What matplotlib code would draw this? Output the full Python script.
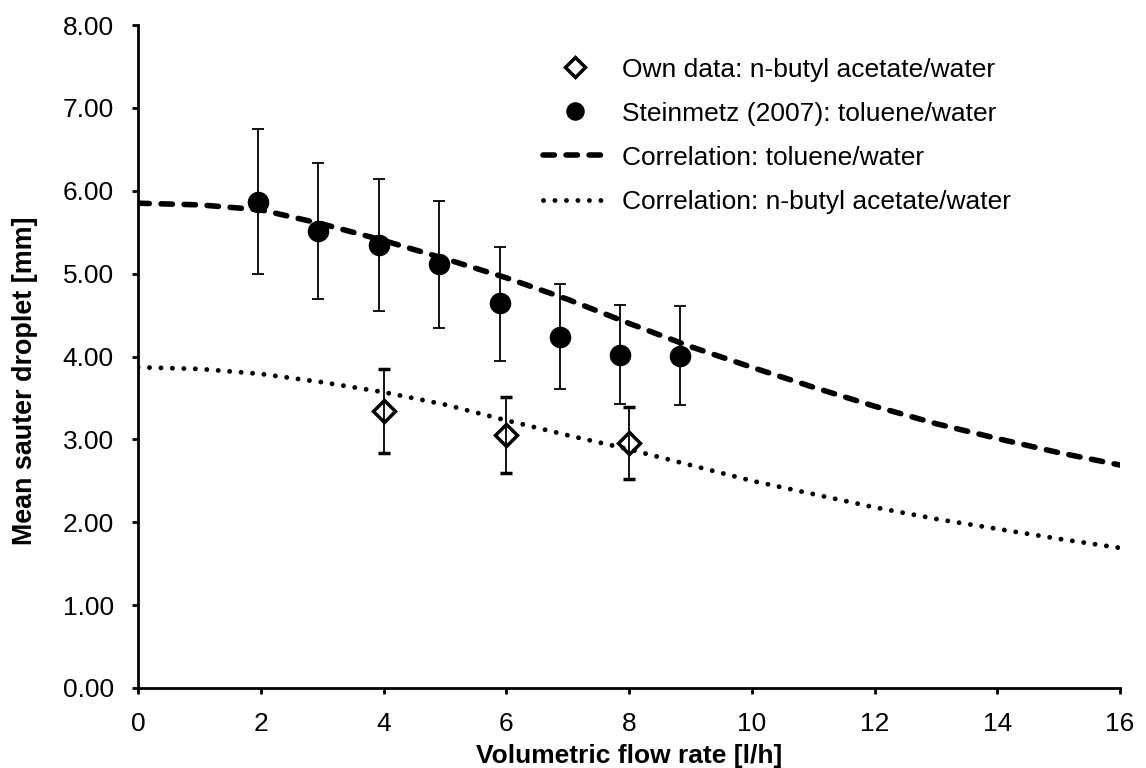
import numpy as np
import matplotlib
matplotlib.use("Agg")
import matplotlib.pyplot as plt

plt.rcParams['font.family'] = ['Liberation Sans', 'DejaVu Sans']

# Steinmetz (2007): toluene/water
stein_x = [1.96, 2.94, 3.93, 4.91, 5.89, 6.87, 7.85, 8.83]
stein_y = [5.87, 5.51, 5.35, 5.12, 4.64, 4.24, 4.02, 4.01]
stein_hi = [6.74, 6.33, 6.14, 5.88, 5.32, 4.88, 4.62, 4.61]
stein_lo = [4.99, 4.69, 4.55, 4.35, 3.94, 3.61, 3.43, 3.42]

# own data: n-butyl acetate/water
own_x = [4, 6, 8]
own_y = [3.34, 3.05, 2.96]
own_hi = [3.85, 3.51, 3.39]
own_lo = [2.84, 2.60, 2.52]

# correlations
corr_x = list(range(17))
corr_tol = [5.85, 5.83, 5.77, 5.60, 5.40, 5.18, 4.95, 4.69, 4.40, 4.12,
            3.87, 3.63, 3.40, 3.19, 3.01, 2.84, 2.69]
corr_but = [3.87, 3.85, 3.79, 3.69, 3.57, 3.42, 3.23, 3.05, 2.88, 2.69,
            2.50, 2.34, 2.18, 2.04, 1.92, 1.80, 1.69]

fig = plt.figure(figsize=(11.46, 7.68), dpi=100)
ax = fig.add_axes([0.1204, 0.1042, 0.857, 0.8632])

sy = np.array(stein_y)
oy = np.array(own_y)

h_own = ax.errorbar(own_x, own_y,
                    yerr=[oy - np.array(own_lo), np.array(own_hi) - oy],
                    fmt='D', ms=11.5, mfc='none', mec='black', mew=2.5,
                    ecolor='black', elinewidth=1.3, capsize=4.5, capthick=1.3,
                    zorder=4)
h_stein = ax.errorbar(stein_x, stein_y,
                      yerr=[sy - np.array(stein_lo), np.array(stein_hi) - sy],
                      fmt='o', ms=14.5, mfc='black', mec='black',
                      ecolor='black', elinewidth=1.3, capsize=4.5, capthick=1.3,
                      zorder=4)
h_tol, = ax.plot(corr_x, corr_tol, color='black', lw=4.0,
                 linestyle=(0, (2.05, 2.1)), dash_capstyle='round', zorder=3)
h_but, = ax.plot(corr_x, corr_but, color='black', lw=3.5,
                 linestyle=(0, (0.01, 2.35)), dash_capstyle='round', zorder=3)

ax.set_xlim(0, 16)
ax.set_ylim(0, 8)
ax.set_xticks(range(0, 17, 2))
ax.set_yticks(range(0, 9))
ax.set_yticklabels([f"{v:.2f}" for v in range(0, 9)])
ax.spines['top'].set_visible(False)
ax.spines['right'].set_visible(False)
for s in ['left', 'bottom']:
    ax.spines[s].set_linewidth(2.0)
ax.tick_params(direction='out', length=4.5, width=2.0, labelsize=19, pad=13)

ax.set_xlabel("Volumetric flow rate [l/h]", fontsize=19, fontweight='bold')
ax.set_ylabel("Mean sauter droplet [mm]", fontsize=19.4, fontweight='bold')
ax.xaxis.set_label_coords(0.5, -0.0845)
ax.yaxis.set_label_coords(-0.102, 0.464)

fig.legend([h_own[0], h_stein[0], h_tol, h_but],
           ["Own data: n-butyl acetate/water",
            "Steinmetz (2007): toluene/water",
            "Correlation: toluene/water",
            "Correlation: n-butyl acetate/water"],
           loc='upper left', bbox_to_anchor=(0.4738, 0.925), frameon=False,
           fontsize=19, handlelength=2.46, handletextpad=0.53,
           labelspacing=0.76, borderpad=0, borderaxespad=0, markerscale=0.85)

fig.savefig("out.png", dpi=100)
